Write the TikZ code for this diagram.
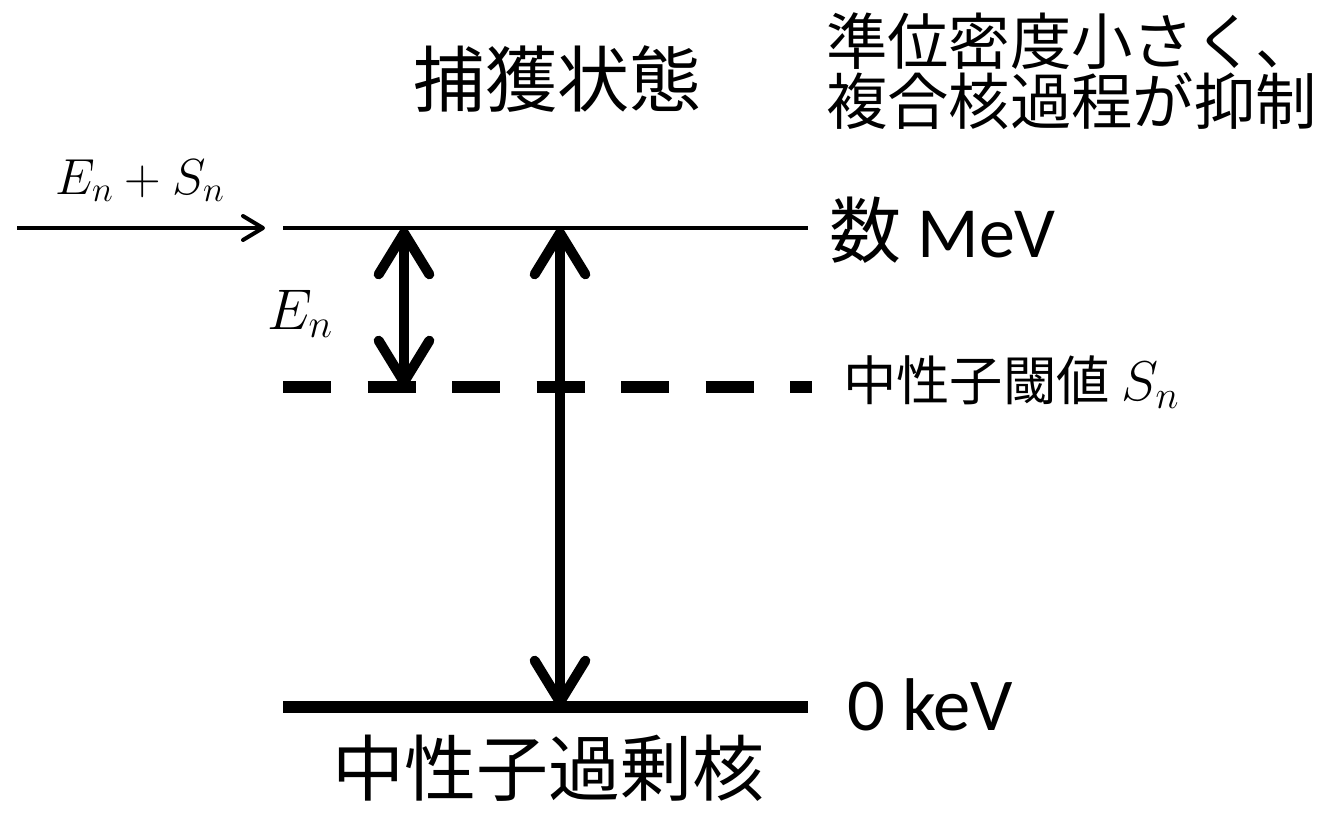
\RequirePackage{fix-cm}
\documentclass[tikz,border=0pt]{standalone}
\usepackage{fontspec}
\setmainfont{Carlito}
\newfontfamily\jp{Noto Sans CJK JP}
\usetikzlibrary{arrows.meta}
\tikzset{
  lbl/.style={inner sep=0pt, text=black},
  thinlevel/.style={line width=3pt},
  thicklevel/.style={line width=9pt},
  dashlevel/.style={line width=9pt, dash pattern=on 36pt off 27.4pt},
  dblarrow/.style={line width=7.5pt, {Straight Barb[length=31pt, width=38pt, round]}-{Straight Barb[length=31pt, width=38pt, round]}},
  inarrow/.style={line width=3pt, -{Straight Barb[length=15pt, width=18pt, round]}},
}
\begin{document}
\begin{tikzpicture}[x=0.75pt,y=-0.75pt]
\useasboundingbox (0,0) rectangle (1337,822);
% coordinates
\coordinate (inS) at (17,228);
\coordinate (inE) at (265,228);
\coordinate (tL) at (283,228);
\coordinate (tR) at (808,228);
\coordinate (dL) at (283,387);
\coordinate (dR) at (812,387);
\coordinate (bL) at (283,707);
\coordinate (bR) at (808,707);
\coordinate (a1t) at (404,228);
\coordinate (a1b) at (404,387);
\coordinate (a2t) at (560,228);
\coordinate (a2b) at (560,707);
% levels
\draw[thinlevel] (tL) -- (tR);
\draw[dashlevel] (dL) -- (dR);
\draw[thicklevel] (bL) -- (bR);
% arrows
\draw[inarrow] (inS) -- (inE);
\draw[dblarrow] (a1b) -- (a1t);
\draw[dblarrow] (a2b) -- (a2t);
% labels
\node[lbl] (cap) at (557,79) {\jp\fontsize{54}{60}\selectfont 捕獲状態};
\node[lbl, anchor=base west] (note1) at (826,64) {\jp\fontsize{46}{50}\selectfont 準位密度小さく、};
\node[lbl, anchor=base west] (note2) at (826,124) {\jp\fontsize{46}{50}\selectfont 複合核過程が抑制};
\node[lbl, anchor=base west] (mev) at (829,257) {\fontsize{54}{60}\selectfont{\jp 数} MeV};
\node[lbl, anchor=base west] (sn) at (843,400) {\fontsize{40}{46}\selectfont{\jp 中性子閾値}\hspace{9pt}\fontsize{42}{48}\selectfont$S_n$};
\node[lbl, anchor=base west] (kev) at (847,730) {\fontsize{56}{60}\selectfont 0 keV};
\node[lbl] (rich) at (548,768) {\jp\fontsize{54}{60}\selectfont 中性子過剰核};
\node[lbl, anchor=base] (ensn) at (140,194) {\fontsize{38}{44}\selectfont $E_n+S_n$};
\node[lbl, anchor=base] (en) at (300,329) {\fontsize{43}{48}\selectfont $E_n$};
\end{tikzpicture}
\end{document}
